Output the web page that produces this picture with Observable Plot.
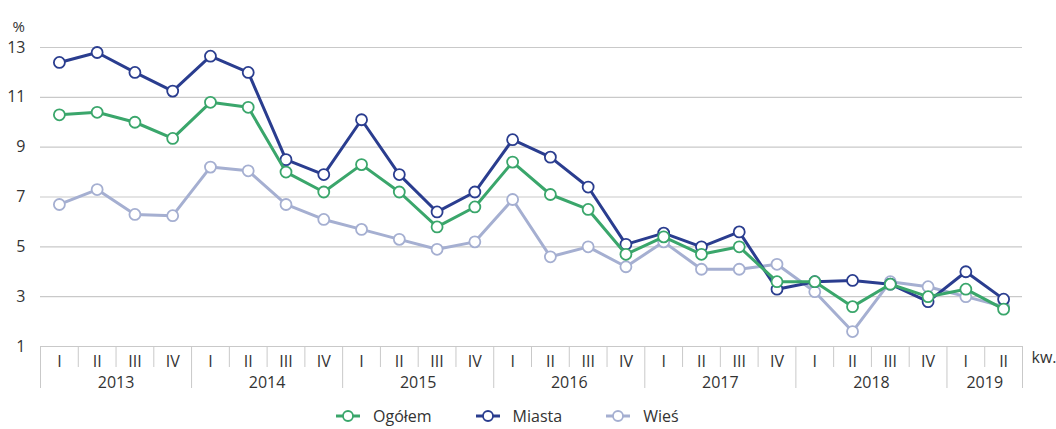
<!DOCTYPE html>
<html>
<head>
<meta charset="utf-8">
<script src="https://cdn.jsdelivr.net/npm/d3@7"></script>
<script src="https://cdn.jsdelivr.net/npm/@observablehq/plot@0.6"></script>
<style>
  body { margin: 0; background: #fff; font-family: "Open Sans", "Noto Sans", sans-serif; color: #333; overflow: hidden; }
  #legend { display: flex; align-items: center; height: 22px; padding-left: 336px; font-size: 16px; line-height: 22px; padding-top: 5px; }
  #legend .item { display: flex; align-items: center; margin-right: 44px; }
  #legend svg { margin-right: 13px; }
</style>
</head>
<body>
<div id="chart"></div>
<div id="legend"></div>
<script>
const years = ["2013", "2014", "2015", "2016", "2017", "2018", "2019"];
const quartersPerYear = [4, 4, 4, 4, 4, 4, 2];
const quarterNames = ["I", "II", "III", "IV"];
const seriesNames = ["Ogółem", "Miasta", "Wieś"];
const seriesColors = ["#3aa66b", "#2a3d8f", "#a5afd1"];

const ogolem = [10.3, 10.4, 10.0, 9.35, 10.8, 10.6, 8.0, 7.2, 8.3, 7.2, 5.8, 6.6, 8.4, 7.1, 6.5, 4.7, 5.4, 4.7, 5.0, 3.6, 3.6, 2.6, 3.5, 3.0, 3.3, 2.5];
const miasta = [12.4, 12.8, 12.0, 11.25, 12.65, 12.0, 8.5, 7.9, 10.1, 7.9, 6.4, 7.2, 9.3, 8.6, 7.4, 5.1, 5.55, 5.0, 5.6, 3.3, 3.6, 3.65, 3.5, 2.8, 4.0, 2.9];
const wies = [6.7, 7.3, 6.3, 6.25, 8.2, 8.05, 6.7, 6.1, 5.7, 5.3, 4.9, 5.2, 6.9, 4.6, 5.0, 4.2, 5.2, 4.1, 4.1, 4.3, 3.2, 1.6, 3.6, 3.4, 3.0, 2.6];
const yTicks = [1, 3, 5, 7, 9, 11, 13];

// periods
const periods = [];
years.forEach((y, yi) => {
  for (let q = 0; q < quartersPerYear[yi]; q++) periods.push({year: y, q: quarterNames[q]});
});
const yearStarts = [];
let acc = 0;
years.forEach((y, yi) => { yearStarts.push(acc); acc += quartersPerYear[yi]; });
const yearBounds = [...yearStarts, acc];
const quarterBounds = d3.range(acc + 1).filter(i => !yearBounds.includes(i));
const yearCenters = years.map((y, yi) => yearStarts[yi] + quartersPerYear[yi] / 2);

const valuesBySeries = {"Ogółem": ogolem, "Miasta": miasta, "Wieś": wies};
const rowsFor = name => valuesBySeries[name].map((v, i) => ({xi: i + 0.5, value: v, series: name}));
const drawOrder = ["Wieś", "Miasta", "Ogółem"];

const grey = "#c9c9c9";

const marks = [
  Plot.gridY({ticks: yTicks.filter(t => t > 1), stroke: grey, strokeOpacity: 1, strokeWidth: 1.2}),
  Plot.ruleY([1], {stroke: grey, strokeWidth: 1.2}),
  Plot.axisY({ticks: yTicks, tickSize: 0, tickPadding: 15, label: null, fontSize: 16}),
  Plot.text(["%"], {frameAnchor: "top-left", dx: -28, dy: -26, fontSize: 15, textAnchor: "start"}),
  Plot.axisX({ticks: quarterBounds, tickSize: 21, tickFormat: () => "", stroke: grey, label: null}),
  Plot.axisX({ticks: yearBounds, tickSize: 42, tickFormat: () => "", stroke: grey, label: null}),
  Plot.axisX({ticks: periods.map((p, i) => i + 0.5), tickSize: 0, tickPadding: 9, tickFormat: t => periods[Math.floor(t)].q, label: null, fontSize: 16}),
  Plot.axisX({ticks: yearCenters, tickSize: 0, tickPadding: 30, tickFormat: t => years[yearCenters.indexOf(t)], label: null, fontSize: 16}),
  Plot.text(["kw."], {frameAnchor: "bottom-right", dx: 9, dy: 16, textAnchor: "start", fontSize: 16})
];
for (const name of drawOrder) {
  const rows = rowsFor(name);
  marks.push(Plot.line(rows, {x: "xi", y: "value", stroke: "series", strokeWidth: 3}));
  marks.push(Plot.dot(rows, {x: "xi", y: "value", r: 5.5, fill: "white", stroke: "series", strokeWidth: 1.8}));
}

const chart = Plot.plot({
  width: 1056,
  height: 400,
  marginLeft: 40,
  marginRight: 34,
  marginTop: 47,
  marginBottom: 54,
  x: {domain: [0, acc], axis: null},
  y: {domain: [1, 13], axis: null},
  color: {domain: seriesNames, range: seriesColors},
  style: {fontFamily: "'Open Sans', 'Noto Sans', sans-serif", fontSize: "16px", color: "#333", background: "white", overflow: "visible"},
  marks
});
document.getElementById("chart").appendChild(chart);

const legend = document.getElementById("legend");
seriesNames.forEach((name, i) => {
  const item = document.createElement("div");
  item.className = "item";
  item.innerHTML = `<svg width="24" height="14"><line x1="0" x2="24" y1="7" y2="7" stroke="${seriesColors[i]}" stroke-width="3"/><circle cx="12" cy="7" r="5" fill="white" stroke="${seriesColors[i]}" stroke-width="1.8"/></svg><span>${name}</span>`;
  legend.appendChild(item);
});
</script>
</body>
</html>
